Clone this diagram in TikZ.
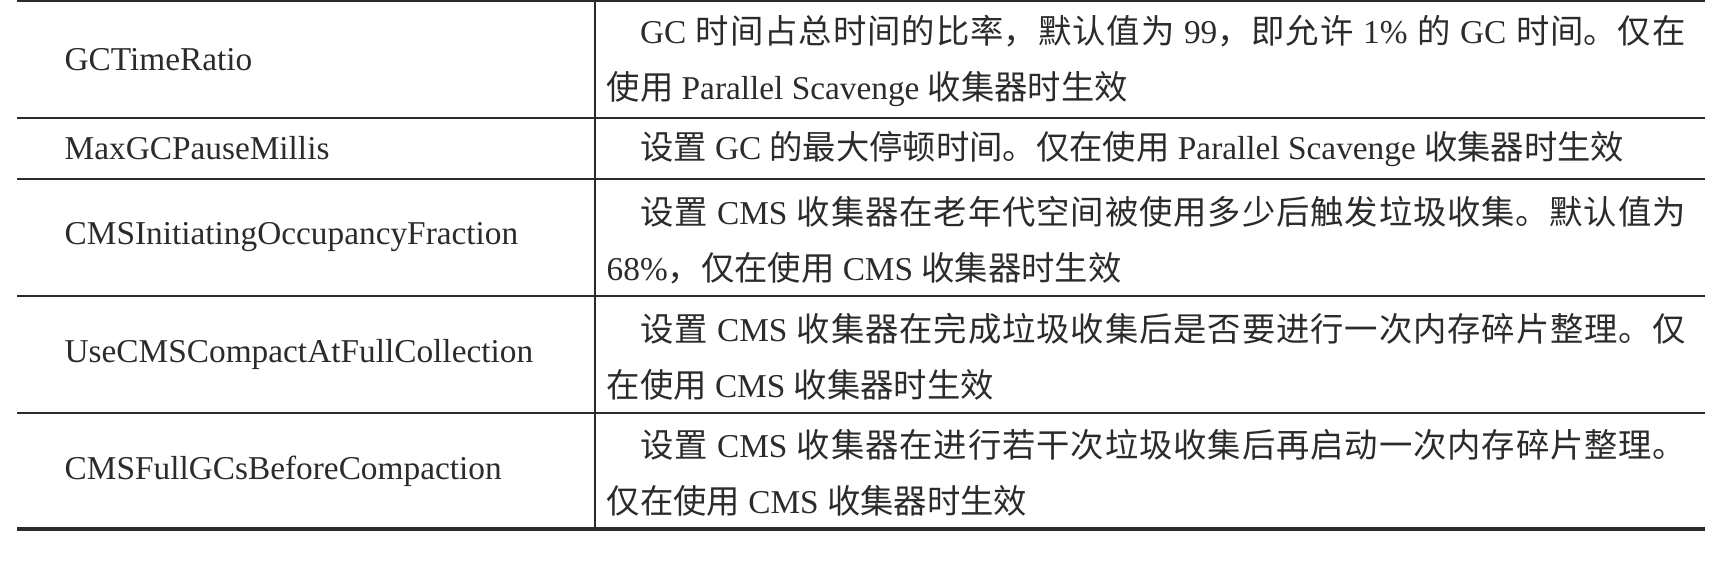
\documentclass[tikz,border=0pt]{standalone}
\usepackage{fontspec}
\setmainfont{Liberation Serif}
\newfontfamily\cjkfont{Noto Sans CJK SC}
\XeTeXlinebreaklocale "zh"
\XeTeXlinebreakskip = 0pt plus 1pt
\definecolor{ink}{rgb}{0.17,0.17,0.17}
\newcommand{\cntext}[1]{{\cjkfont #1}}
\tikzset{
  keycell/.style={anchor=west, inner sep=0pt, text=ink, font=\fontsize{10}{16.8}\selectfont},
  desccell/.style={anchor=west, inner sep=0pt, text=ink, text width=323.7pt, align=justify, font=\fontsize{10}{16.8}\selectfont},
  tablerule/.style={draw=ink, line width=0.6pt}
}

\begin{document}
\begin{tikzpicture}[x=0.3pt, y=-0.3pt]
  \useasboundingbox (0,0) rectangle (1730,562);

  \draw[tablerule] (17,1) -- (1705,1);
  \foreach \y in {118, 179, 296, 413} {
    \draw[tablerule] (17,\y) -- (1705,\y);
  }
  \draw[tablerule, line width=1.2pt] (17,529) -- (1705,529);
  \draw[tablerule] (595,0) -- (595,529);

  \node[keycell] (gcratio)   at (64,59.5)  {GCTimeRatio};
  \node[keycell] (maxpause)  at (64,148.5) {MaxGCPauseMillis};
  \node[keycell] (cmsinit)   at (64,237.5) {CMSInitiatingOccupancyFraction};
  \node[keycell] (cmscompact) at (64,354.5) {UseCMSCompactAtFullCollection};
  \node[keycell] (cmsfullgc) at (64,471)   {CMSFullGCsBeforeCompaction};

  \node[desccell] (gcratiodesc) at (606,61) {\hspace*{1em}GC \cntext{时间占总时间的比率，默认值为} 99\cntext{，即允许} 1\% \cntext{的} GC \cntext{时间。仅在}\linebreak\cntext{使用} Parallel Scavenge \cntext{收集器时生效}};
  \node[desccell] (maxpausedesc) at (606,149) {\hspace*{1em}\cntext{设置} GC \cntext{的最大停顿时间。仅在使用} Parallel Scavenge \cntext{收集器时生效}};
  \node[desccell] (cmsinitdesc) at (606,240) {\hspace*{1em}\cntext{设置} CMS \cntext{收集器在老年代空间被使用多少后触发垃圾收集。默认值为}\linebreak 68\%\cntext{，仅在使用} CMS \cntext{收集器时生效}};
  \node[desccell] (cmscompactdesc) at (606,357) {\hspace*{1em}\cntext{设置} CMS \cntext{收集器在完成垃圾收集后是否要进行一次内存碎片整理。仅}\linebreak\cntext{在使用} CMS \cntext{收集器时生效}};
  \node[desccell] (cmsfullgcdesc) at (606,473) {\hspace*{1em}\cntext{设置} CMS \cntext{收集器在进行若干次垃圾收集后再启动一次内存碎片整理。}\linebreak\cntext{仅在使用} CMS \cntext{收集器时生效}};
\end{tikzpicture}
\end{document}
